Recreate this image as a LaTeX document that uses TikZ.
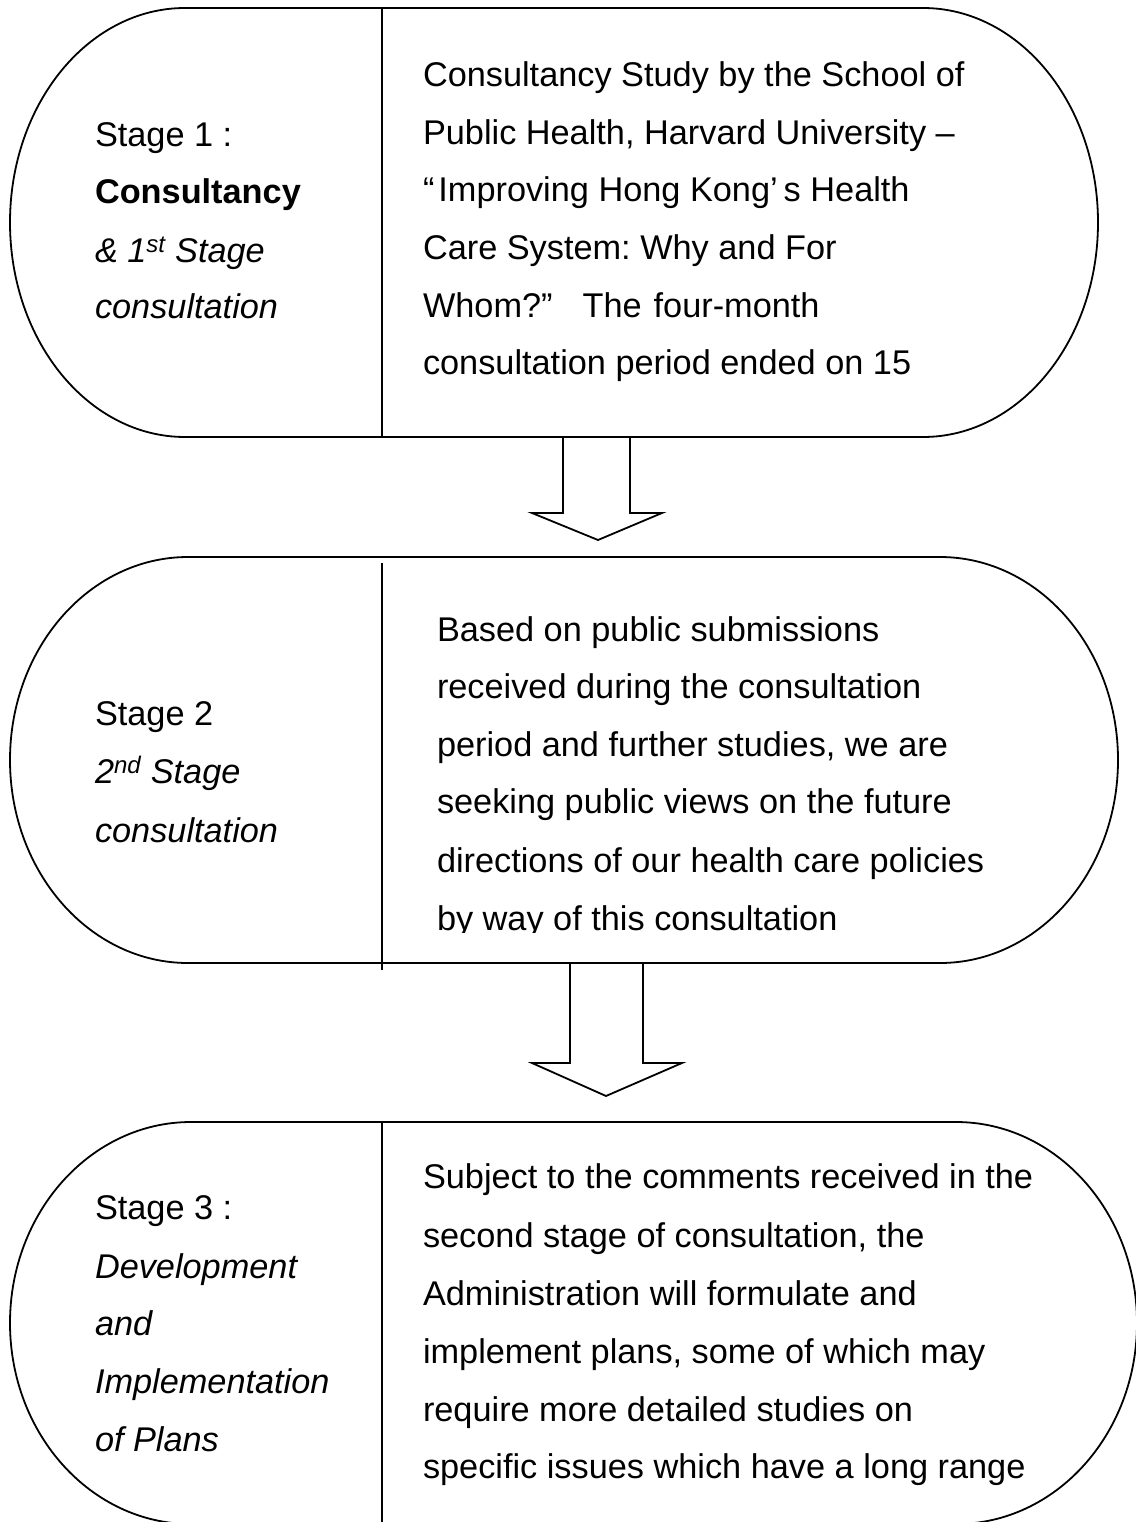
\documentclass[tikz,border=0pt]{standalone}
\usepackage{fontspec}
\setmainfont{Liberation Sans}
\frenchspacing
\begin{document}
\begin{tikzpicture}[x=1pt,y=-1pt,
  outline/.style={draw=black,line width=1.8pt,fill=white,line join=miter},
  divider/.style={draw=black,line width=1.8pt},
  blockarrow/.style={draw=black,line width=1.8pt,line join=miter},
  txt/.style={anchor=base west,inner sep=0pt,outer sep=0pt,font=\fontsize{34.3}{40}\selectfont},
  itxt/.style={txt,font=\fontsize{34.3}{40}\selectfont\itshape},
  btxt/.style={txt,font=\fontsize{34.3}{40}\selectfont\bfseries}]
\useasboundingbox (0,0) rectangle (1135,1522);
\fill[white] (0,0) rectangle (1135,1522);

% ---------- block arrows (drawn below the shapes) ----------
\coordinate (a1l) at (563,437);
\coordinate (a1r) at (630,437);
\draw[blockarrow] (a1l) -- (563,513) -- (532,513) -- (598,540) -- (662,513) -- (630,513) -- (a1r);
\coordinate (a2l) at (570,963);
\coordinate (a2r) at (643,963);
\draw[blockarrow] (a2l) -- (570,1063) -- (532,1063) -- (606,1096) -- (682,1063) -- (643,1063) -- (a2r);

% ---------- stage 1 shape ----------
\draw[outline] (185,8) -- (923,8)
  arc[start angle=-90,end angle=90,x radius=175,y radius=214.5]
  -- (185,437)
  arc[start angle=90,end angle=270,x radius=175,y radius=214.5] -- cycle;
\coordinate (d1t) at (382,8);
\coordinate (d1b) at (382,437);
\draw[divider] (d1t) -- (d1b);

% ---------- stage 2 shape ----------
\draw[outline] (188,557) -- (940,557)
  arc[start angle=-90,end angle=90,x radius=178,y radius=203]
  -- (188,963)
  arc[start angle=90,end angle=270,x radius=178,y radius=203] -- cycle;
\coordinate (d2t) at (382,563);
\coordinate (d2b) at (382,970);
\draw[divider] (d2t) -- (d2b);

% ---------- stage 3 shape ----------
\draw[outline] (191,1122) -- (956,1122)
  arc[start angle=-90,end angle=90,x radius=181,y radius=201]
  -- (191,1524)
  arc[start angle=90,end angle=270,x radius=181,y radius=201] -- cycle;
\coordinate (d3t) at (382,1122);
\coordinate (d3b) at (382,1530);
\draw[divider] (d3t) -- (d3b);

% ---------- stage 1 texts ----------
\node[txt]  (s1a) at (95,147) {Stage 1 :};
\node[btxt] (s1b) at (95,204) {Consultancy};
\node[itxt] (s1c) at (95,262) {\& 1\textsuperscript{st} Stage};
\node[itxt] (s1d) at (95,318) {consultation};

\node[txt] (r1a) at (423,87)    {Consultancy Study by the School of};
\node[txt] (r1b) at (423,144.5) {Public Health, Harvard University –};
\node[txt] (r1c) at (423,202)   {“\hspace{4pt}Improving Hong Kong’\hspace{6pt}s Health};
\node[txt] (r1d) at (423,259.5) {Care System: Why and For};
\node[txt] (r1e) at (423,317)   {Whom?”\hspace{30pt}The\hspace{12pt}four-month};
\node[txt] (r1f) at (423,374.5) {consultation period ended on 15};

% ---------- stage 2 texts ----------
\node[txt]  (s2a) at (95,725) {Stage 2};
\node[itxt] (s2b) at (95,783) {2\textsuperscript{nd} Stage};
\node[itxt] (s2c) at (95,842) {consultation};

\node[txt] (r2a) at (437,641) {Based on public submissions};
\node[txt] (r2b) at (437,698) {received during the consultation};
\node[txt] (r2c) at (437,756) {period and further studies, we are};
\node[txt] (r2d) at (437,813) {seeking public views on the future};
\node[txt] (r2e) at (437,872) {directions of our health care policies};
\begin{scope}
  \clip (384,880) rectangle (1100,932);
  \node[txt] (r2f) at (437,930) {by way of this consultation};
\end{scope}

% ---------- stage 3 texts ----------
\node[txt]  (s3a) at (95,1219) {Stage 3 :};
\node[itxt] (s3b) at (95,1278) {Development};
\node[itxt] (s3c) at (95,1335) {and};
\node[itxt] (s3d) at (95,1393) {Implementation};
\node[itxt] (s3e) at (95,1451) {of Plans};

\node[txt] (r3a) at (423,1188) {Subject to the comments received in the};
\node[txt] (r3b) at (423,1247) {second stage of consultation, the};
\node[txt] (r3c) at (423,1305) {Administration will formulate and};
\node[txt] (r3d) at (423,1363) {implement plans, some of which may};
\node[txt] (r3e) at (423,1421) {require more detailed studies on};
\node[txt] (r3f) at (423,1478) {specific issues which have a long range};
\end{tikzpicture}
\end{document}
